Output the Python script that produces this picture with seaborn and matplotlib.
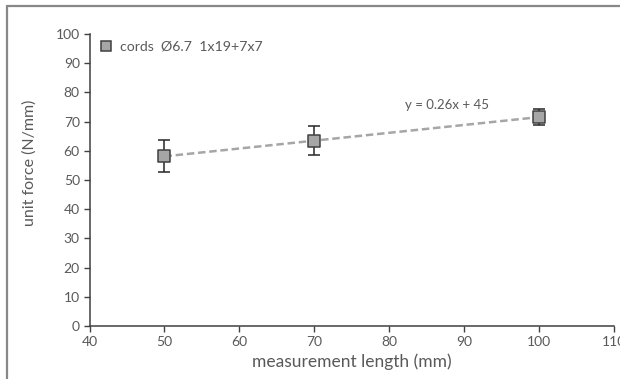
import numpy as np
import pandas as pd
import seaborn as sns
import matplotlib.pyplot as plt
from matplotlib.lines import Line2D

# values
lengths = [50, 70, 100]
unit_force = [58.2, 63.3, 71.6]
err_low = [52.8, 58.7, 68.9]
err_high = [63.8, 68.4, 74.2]
series_label = "cords  Ø6.7  1x19+7x7"
fit_label = "y = 0.26x + 45"

df = pd.DataFrame({"length": lengths, "force": unit_force})

sns.set_style("white")
plt.rcParams["font.family"] = ["Lato", "DejaVu Sans"]
text_col = "#595959"

fig = plt.figure(figsize=(6.2, 3.79), dpi=100)
ax = fig.add_axes([0.1445, 0.1398, 0.8452, 0.7705])

# trend line from a linear fit of the points
slope, icpt = np.polyfit(lengths, unit_force, 1)
fit_x = np.array([min(lengths), max(lengths)])
sns.lineplot(x=fit_x, y=slope * fit_x + icpt, ax=ax, color="#a6a6a6",
             linestyle=(0, (3, 1.5)), linewidth=1.8, zorder=1)

yerr = [np.array(unit_force) - np.array(err_low), np.array(err_high) - np.array(unit_force)]
ax.errorbar(lengths, unit_force, yerr=yerr, fmt="none", ecolor="#262626",
            elinewidth=1.1, capsize=4, capthick=1.1, zorder=2)
sns.scatterplot(data=df, x="length", y="force", ax=ax, marker="s", s=68,
                color="#a6a6a6", edgecolor="#404040", linewidth=1.1, zorder=3,
                legend=False)

ax.text(82.1, 73.5, fit_label, fontsize=9.5, color=text_col, ha="left", va="bottom")

ax.set_xlim(40, 110)
ax.set_ylim(0, 100)
ax.set_xticks(range(40, 111, 10))
ax.set_yticks(range(0, 101, 10))
ax.tick_params(axis="both", direction="out", length=4, width=1, color="#404040",
               labelcolor=text_col, labelsize=10, pad=3, left=True, bottom=True)
for side in ["top", "right"]:
    ax.spines[side].set_visible(False)
for side in ["left", "bottom"]:
    ax.spines[side].set_color("#404040")
    ax.spines[side].set_linewidth(1.1)

ax.set_xlabel("measurement length (mm)", fontsize=12.5, color=text_col, labelpad=4)
ax.set_ylabel("unit force (N/mm)", fontsize=11.5, color=text_col)
ax.yaxis.set_label_coords(-0.1, 0.56)

handle = Line2D([], [], marker="s", linestyle="none", markersize=7.5,
                markerfacecolor="#a6a6a6", markeredgecolor="#404040", markeredgewidth=1.1)
leg = ax.legend([handle], [series_label], loc="upper left", frameon=False,
                bbox_to_anchor=(-0.02, 1.02), handletextpad=0.0, fontsize=10.2)
for t in leg.get_texts():
    t.set_color(text_col)

# outer frame (top and left edges visible)
fig.add_artist(Line2D([0.0113, 1.0], [0.984, 0.984], transform=fig.transFigure,
                      color="#888888", linewidth=1.6))
fig.add_artist(Line2D([0.0113, 0.0113], [0.0, 0.984], transform=fig.transFigure,
                      color="#888888", linewidth=1.6))

fig.savefig("out.png", dpi=100)
